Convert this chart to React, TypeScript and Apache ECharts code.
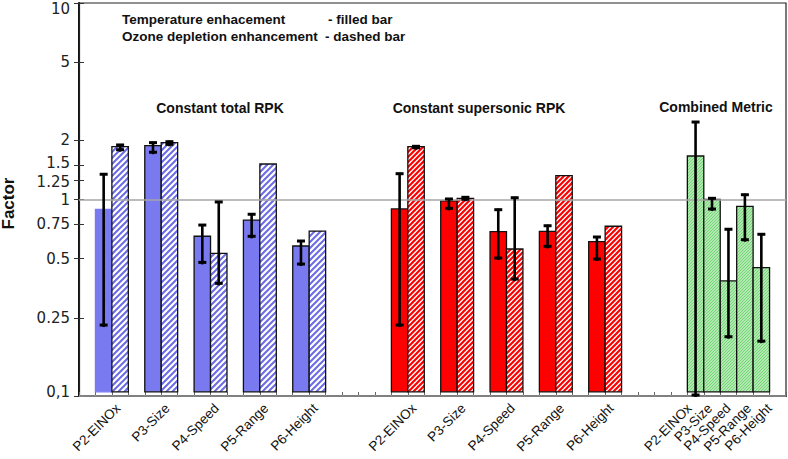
import React, { useEffect, useRef } from "react";
import * as echarts from "echarts";

// ---------- data ----------
const groupTitles = ["Constant total RPK", "Constant supersonic RPK", "Combined Metric"];
const parameters = ["P2-EINOx", "P3-Size", "P4-Speed", "P5-Range", "P6-Height"];

// Constant total RPK
const totalTemp = [0.89, 1.88, 0.65, 0.785, 0.58];
const totalTempLow = [0.227, 1.72, 0.473, 0.642, 0.464];
const totalTempHigh = [1.36, 1.97, 0.75, 0.851, 0.622];
const totalOzone = [1.857, 1.946, 0.532, 1.516, 0.691];
const totalOzoneLow: (number | null)[] = [1.771, 1.887, 0.37, null, null];
const totalOzoneHigh: (number | null)[] = [1.917, 1.992, 0.983, null, null];

// Constant supersonic RPK
const superTemp = [0.895, 0.983, 0.686, 0.689, 0.61];
const superTempLow = [0.227, 0.891, 0.498, 0.571, 0.492];
const superTempHigh = [1.369, 1.018, 0.898, 0.744, 0.652];
const superOzone = [1.857, 1.014, 0.56, 1.322, 0.731];
const superOzoneLow: (number | null)[] = [1.813, 0.991, 0.389, null, null];
const superOzoneHigh: (number | null)[] = [1.887, 1.038, 1.033, null, null];

// Combined metric
const combined = [1.665, 1.0, 0.385, 0.923, 0.45];
const combinedLow = [0.1, 0.884, 0.198, 0.617, 0.188];
const combinedHigh = [2.508, 1.026, 0.714, 1.07, 0.673];

const yTicks = [0.1, 0.25, 0.5, 0.75, 1, 1.25, 1.5, 2, 5, 10];
const legendLines = ["Temperature enhacement", "- filled bar", "Ozone depletion enhancement", "- dashed bar"];

// ---------- layout (not data) ----------
const BASE = 0.105; // baseline of the bars in the original plot
const SLOTS = 43;
const groupStart = [1, 19, 37];
const pairLabelOffset = 1.375;
const greenLabelOffsets = [0.125, 1.375, 2.5, 3.75, 5.0];
const FONT = '"Liberation Sans", Arial, Helvetica, sans-serif';
const NUMFONT = '"DejaVu Sans", Verdana, sans-serif';
const YFS = 15;

function stripes(size: number, lw: number, bg: string | null, fg: string) {
  const c = document.createElement("canvas");
  c.width = size;
  c.height = size;
  const ctx = c.getContext("2d")!;
  ctx.fillStyle = bg || "#ffffff";
  ctx.fillRect(0, 0, size, size);
  ctx.strokeStyle = fg;
  ctx.lineWidth = lw;
  ctx.beginPath();
  for (const off of [-size, 0, size]) {
    ctx.moveTo(off - 1, size + 1);
    ctx.lineTo(off + size + 1, -1);
  }
  ctx.stroke();
  return { image: c.toDataURL(), repeat: "repeat", imageWidth: size, imageHeight: size } as any;
}

export default function App() {
  const ref = useRef<HTMLDivElement>(null);
  useEffect(() => {
    if (!ref.current) return;
    const chart = echarts.init(ref.current, undefined, { renderer: "svg" });

    const blueHatch = stripes(6, 2, null, "#6b6be6");
    const redHatch = stripes(5, 2.2, null, "#ff0000");
    const greenHatch = stripes(3, 1.2, "#cdf5cd", "#74d274");

    const blueFilled: number[][] = [];
    const blueHatched: number[][] = [];
    const redFilled: number[][] = [];
    const redHatched: number[][] = [];
    const greenBars: number[][] = [];
    const errs: number[][] = [];

    parameters.forEach((_, k) => {
      const s0 = groupStart[0] + 3 * k;
      blueFilled.push([s0, totalTemp[k], k]);
      blueHatched.push([s0 + 1, totalOzone[k], k]);
      errs.push([s0 + 0.5, totalTempLow[k], totalTempHigh[k]]);
      if (totalOzoneLow[k] != null) errs.push([s0 + 1.5, totalOzoneLow[k] as number, totalOzoneHigh[k] as number]);

      const s1 = groupStart[1] + 3 * k;
      redFilled.push([s1, superTemp[k], k]);
      redHatched.push([s1 + 1, superOzone[k], k]);
      errs.push([s1 + 0.5, superTempLow[k], superTempHigh[k]]);
      if (superOzoneLow[k] != null) errs.push([s1 + 1.5, superOzoneLow[k] as number, superOzoneHigh[k] as number]);

      const s2 = groupStart[2] + k;
      greenBars.push([s2, combined[k], k]);
      errs.push([s2 + 0.5, combinedLow[k], combinedHigh[k]]);
    });

    const labelPos: { pos: number; text: string }[] = [];
    parameters.forEach((p, k) => {
      labelPos.push({ pos: groupStart[0] + 3 * k + pairLabelOffset, text: p });
      labelPos.push({ pos: groupStart[1] + 3 * k + pairLabelOffset, text: p });
      labelPos.push({ pos: groupStart[2] + greenLabelOffsets[k], text: p });
    });

    const barSeries = (name: string, data: number[][], fill: any, z: number, noStrokeFirst = false) => ({
      name,
      type: "custom",
      coordinateSystem: "cartesian2d",
      xAxisIndex: 0,
      yAxisIndex: 0,
      z,
      encode: { x: 0, y: 1 },
      data,
      renderItem: (params: any, api: any) => {
        const x = api.value(0);
        const v = api.value(1);
        const k = api.value(2);
        const p0 = api.coord([x, BASE]);
        const p1 = api.coord([x + 1, v]);
        const plain = noStrokeFirst && k === 0;
        return {
          type: "rect",
          shape: { x: p0[0], y: p1[1], width: p1[0] - p0[0], height: p0[1] - p1[1] },
          style: {
            fill,
            stroke: plain ? "#7a7af0" : "#111",
            lineWidth: 1.3,
          },
        };
      },
    });

    const richStyle = (padding: number[]) => ({ padding, fontSize: YFS, lineHeight: 13, fontFamily: NUMFONT, color: "#222" });

    const option: any = {
      animation: false,
      backgroundColor: "#ffffff",
      grid: {
        left: 79,
        right: 2,
        top: 3,
        bottom: 63,
        containLabel: false,
        outerBoundsMode: "none",
        show: true,
        borderColor: "#222",
        borderWidth: 1.2,
      },
      xAxis: [
        {
          type: "value",
          min: 0,
          max: SLOTS,
          interval: 1,
          position: "bottom",
          axisLine: { show: true, lineStyle: { color: "#111", width: 2 } },
          axisTick: { show: true, inside: true, length: 4, lineStyle: { color: "#666", width: 1 } },
          axisLabel: { show: false },
          splitLine: { show: false },
        },
        {
          type: "value",
          min: 0,
          max: SLOTS,
          interval: 0.125,
          position: "bottom",
          axisLine: { show: false },
          axisTick: { show: false },
          splitLine: { show: false },
          axisLabel: {
            show: true,
            rotate: 45,
            margin: 10,
            fontSize: 13.5,
            color: "#111",
            fontFamily: FONT,
            showMinLabel: true,
            showMaxLabel: true,
            formatter: (v: number) => {
              const f = labelPos.find((l) => Math.abs(l.pos - v) < 1e-6);
              return f ? f.text : "";
            },
          },
        },
      ],
      yAxis: [
        {
          type: "log",
          logBase: 10,
          min: 0.1,
          max: 10,
          position: "left",
          name: "Factor",
          nameLocation: "middle",
          nameRotate: 90,
          nameGap: 62,
          nameTextStyle: { fontSize: 17, fontWeight: "bold", color: "#111", fontFamily: FONT, padding: [0, 8, 0, 0] },
          axisLine: { show: true, lineStyle: { color: "#111", width: 2 } },
          axisTick: { show: true, inside: true, length: 5, customValues: yTicks, lineStyle: { color: "#333", width: 1 } },
          axisLabel: {
            show: true,
            customValues: yTicks,
            margin: 9,
            fontSize: YFS,
            lineHeight: 13,
            color: "#222",
            fontFamily: NUMFONT,
            formatter: (v: number) => {
              if (Math.abs(v - 0.1) < 1e-9) return "{b|0,1}";
              if (Math.abs(v - 10) < 1e-9) return "{t|10}";
              if (Math.abs(v - 1.5) < 1e-9) return "{u|1.5}";
              if (Math.abs(v - 1.25) < 1e-9) return "{d|1.25}";
              return String(v);
            },
            rich: {
              t: richStyle([12, 0, 0, 0]),
              b: richStyle([0, 0, 8, 0]),
              u: richStyle([0, 0, 4, 0]),
              d: richStyle([4, 0, 0, 0]),
            },
          },
          splitLine: { show: false },
        },
        {
          type: "log",
          logBase: 10,
          min: 0.1,
          max: 10,
          position: "right",
          axisLine: { show: true, lineStyle: { color: "#222", width: 1.2 } },
          axisTick: { show: true, inside: true, length: 5, customValues: yTicks, lineStyle: { color: "#333", width: 1 } },
          axisLabel: { show: false },
          splitLine: { show: false },
        },
      ],
      graphic: [
        { type: "text", x: 122, y: 19, style: { text: legendLines[0], font: `bold 13.5px ${FONT}`, fill: "#111", verticalAlign: "middle" } },
        { type: "text", x: 328, y: 19, style: { text: legendLines[1], font: `bold 13.5px ${FONT}`, fill: "#111", verticalAlign: "middle" } },
        { type: "text", x: 122, y: 36, style: { text: legendLines[2], font: `bold 13.5px ${FONT}`, fill: "#111", verticalAlign: "middle" } },
        { type: "text", x: 325, y: 36, style: { text: legendLines[3], font: `bold 13.5px ${FONT}`, fill: "#111", verticalAlign: "middle" } },
        { type: "text", x: 220, y: 108, style: { text: groupTitles[0], font: `bold 14px ${FONT}`, fill: "#111", align: "center", verticalAlign: "middle" } },
        { type: "text", x: 479, y: 108, style: { text: groupTitles[1], font: `bold 14px ${FONT}`, fill: "#111", align: "center", verticalAlign: "middle" } },
        { type: "text", x: 716, y: 107, style: { text: groupTitles[2], font: `bold 14px ${FONT}`, fill: "#111", align: "center", verticalAlign: "middle" } },
      ],
      series: [
        {
          name: "refLines",
          type: "custom",
          coordinateSystem: "cartesian2d",
          xAxisIndex: 0,
          yAxisIndex: 0,
          z: 1,
          data: [],
          renderItem: () => null,
          markLine: {
            silent: true,
            symbol: "none",
            label: { show: false },
            lineStyle: { color: "#a6a6a6", width: 1.5, type: "solid" },
            data: [{ yAxis: 1 }, { yAxis: BASE }],
          },
        },
        barSeries("Temperature (total RPK)", blueFilled, "#7a7af0", 2, true),
        barSeries("Ozone (total RPK)", blueHatched, blueHatch, 2),
        barSeries("Temperature (supersonic RPK)", redFilled, "#ff0000", 2),
        barSeries("Ozone (supersonic RPK)", redHatched, redHatch, 2),
        barSeries("Combined metric", greenBars, greenHatch, 2),
        {
          name: "Error",
          type: "custom",
          coordinateSystem: "cartesian2d",
          xAxisIndex: 0,
          yAxisIndex: 0,
          z: 5,
          encode: { x: 0, y: [1, 2] },
          data: errs,
          renderItem: (params: any, api: any) => {
            const x = api.value(0);
            const lo = api.coord([x, api.value(1)]);
            const hi = api.coord([x, api.value(2)]);
            const hw = 4;
            const st = { stroke: "#000", lineWidth: 3 };
            return {
              type: "group",
              children: [
                { type: "line", shape: { x1: lo[0], y1: lo[1] + 1, x2: hi[0], y2: hi[1] }, style: { stroke: "#000", lineWidth: 2.6 } },
                { type: "line", shape: { x1: hi[0] - hw, y1: hi[1] + 1, x2: hi[0] + hw, y2: hi[1] + 1 }, style: st },
                { type: "line", shape: { x1: lo[0] - hw, y1: lo[1] - 1, x2: lo[0] + hw, y2: lo[1] - 1 }, style: st },
              ],
            };
          },
        },
      ],
    };

    chart.setOption(option);
    return () => chart.dispose();
  }, []);

  return <div ref={ref} style={{ width: 788, height: 459, position: "absolute", left: 0, top: 0 }} />;
}
